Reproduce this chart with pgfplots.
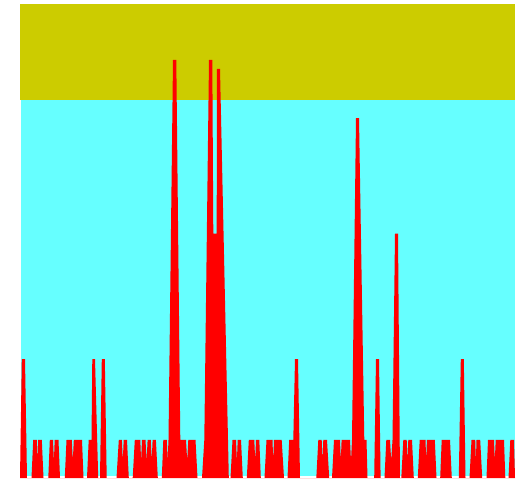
\documentclass[border=0pt]{standalone}
\usepackage{pgfplots}
\pgfplotsset{compat=1.18}
\definecolor{bgcyan}{HTML}{66FFFF}
\definecolor{bgyellow}{HTML}{CCCC00}
\begin{document}
\begin{tikzpicture}
\useasboundingbox (0,0) rectangle (522pt,480pt);
\begin{axis}[
  at={(20pt,2pt)}, anchor=south west,
  scale only axis, width=495pt, height=474pt,
  xmin=20, xmax=515, ymin=0, ymax=12.47,
  hide axis,
]
\fill[bgyellow] (axis cs:20,9.95) rectangle (axis cs:515,12.47);
\fill[bgcyan] (axis cs:21,0.06) rectangle (axis cs:515,9.95);
\addplot[fill=red, draw=none] coordinates {
(20,0)(21.8,3.13)(25,3.13)(27,0)
(31.5,0)(33.2,1)(36.8,1)(37.5,0.45)(38.2,1)(41.8,1)(43.5,0)
(48.3,0)(49.8,1)(53,1)(53.9,0.45)(54.7,1)(58.5,1)(60,0)
(64.8,0)(66.5,1)(71.8,1)(72.8,0.45)(73.8,1)(82,1)(83.5,0)
(87,0)(88.7,1)(91.5,1)(92.3,3.13)(95,3.13)(98.2,0)
(100,0)(101.8,3.13)(104.8,3.13)(106.7,0)
(116.5,0)(118.8,1)(121.9,1)(122.8,0.45)(123.7,1)(127,1)(128.8,0)
(132.7,0)(134.8,1)(140.3,1)(141.1,0.45)(142,1)(145.5,1)(146.6,0.45)(147.6,1)(150.8,1)(151.7,0.45)(152.6,1)(155.9,1)(157.8,0)
(161.8,0)(163.3,1)(166.8,1)(167.6,0.45)(168.5,1)(173,11)(176.3,11)(180.3,1)(186,1)(187.2,0.45)(188.3,1)(195.5,1)(197.5,0)
(202,0)(204.3,1)(209,11)(212.3,11)(213.3,6.43)(216.7,6.43)(216.9,10.76)(220,10.76)(228,1)(228.8,0)
(230.5,0)(232.5,1)(236,1)(236.9,0.45)(237.7,1)(241,1)(242.8,0)
(246.8,0)(248.8,1)(254.3,1)(255.2,0.45)(256,1)(259.3,1)(260.8,0)
(264.5,0)(266.5,1)(272.5,1)(273.2,0.45)(274,1)(281.7,1)(284,0)
(287.5,0)(289.2,1)(293.3,1)(295,3.13)(298,3.13)(300,0)
(316.3,0)(318.3,1)(321.7,1)(322.5,0.45)(323.3,1)(327,1)(329.2,0)
(332,0)(334,1)(340,1)(340.8,0.45)(341.6,1)(350,1)(351,0.45)(352,1)(356,9.47)(359,9.47)(364.3,1)(366.5,1)(367.5,0)
(374.2,0)(376,3.13)(379,3.13)(380.6,0)
(384.5,0)(386.3,1)(390,1)(391.2,0.45)(392.5,1)(395,6.43)(398,6.43)(400,0)
(401.3,0)(403.3,1)(406.7,1)(407.5,0.45)(408.3,1)(412,1)(413.8,0)
(417.8,0)(419.7,1)(425.5,1)(426.2,0.45)(426.9,1)(434.8,1)(436.5,0)
(440.2,0)(441.7,1)(450,1)(451.8,0)
(458.8,0)(460.8,3.13)(463.8,3.13)(465.5,0)
(469.5,0)(471.5,1)(475.2,1)(475.9,0.45)(476.5,1)(480.2,1)(482.2,0)
(486.5,0)(488,1)(494,1)(494.8,0.45)(495.7,1)(504,1)(505.3,0)
(508.5,0)(510.3,1)(514,1)(515,0)
} \closedcycle;
\end{axis}
\end{tikzpicture}
\end{document}
